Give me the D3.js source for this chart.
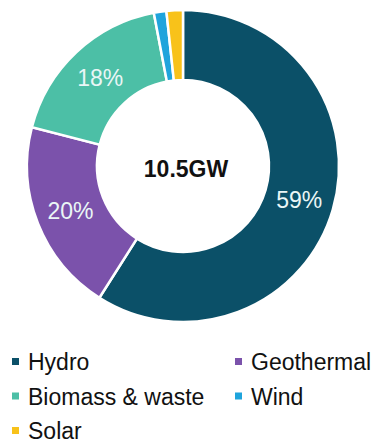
<!DOCTYPE html>
<html>
<head>
<meta charset="utf-8">
<script src="https://cdn.jsdelivr.net/npm/d3@7"></script>
<style>
  body { margin: 0; background: #fff; }
  svg { display: block; font-family: "Liberation Sans", Arial, sans-serif; }
</style>
</head>
<body>
<svg></svg>
<script>
// capacity mix, share of total (%)
var sources = ['Hydro', 'Geothermal', 'Biomass & waste', 'Wind', 'Solar'];
var shares = [59, 20, 18, 1.3, 1.7];
var shareLabels = ['59%', '20%', '18%', '', ''];
var colors = ['#0b5068', '#7b52ab', '#4cbfa6', '#1fa4dc', '#f8c21a'];
var total = '10.5GW';

var W = 375, H = 443;
var cx = 183, cy = 166, rOuter = 156, rInner = 86;

var svg = d3.select('svg').attr('width', W).attr('height', H);

var rows = sources.map(function(s, i) {
    return { name: s, value: shares[i], label: shareLabels[i], color: colors[i] };
});

var pie = d3.pie().sort(null).value(function(d) { return d.value; });
var arc = d3.arc().innerRadius(rInner).outerRadius(rOuter);
var labelArc = d3.arc().innerRadius((rInner + rOuter) / 2).outerRadius((rInner + rOuter) / 2);

var g = svg.append('g').attr('transform', 'translate(' + cx + ',' + cy + ')');

var slices = g.selectAll('g.slice')
    .data(pie(rows))
    .enter()
    .append('g')
    .attr('class', 'slice');

slices.append('path')
    .attr('d', arc)
    .style('fill', function(d) { return d.data.color; })
    .style('stroke', '#fff')
    .style('stroke-width', 2.5);

slices.append('text')
    .attr('transform', function(d) { return 'translate(' + labelArc.centroid(d) + ')'; })
    .attr('text-anchor', 'middle')
    .attr('dy', '0.36em')
    .style('font-size', '23px')
    .style('fill', '#eaf6f6')
    .text(function(d) { return d.data.label; });

g.append('text')
    .attr('x', 3)
    .attr('y', 3)
    .attr('text-anchor', 'middle')
    .attr('dy', '0.36em')
    .style('font-size', '23px')
    .style('font-weight', 'bold')
    .style('fill', '#111')
    .text(total);

// legend, two columns
var legend = svg.append('g');
var item = legend.selectAll('g.item')
    .data(rows)
    .enter()
    .append('g')
    .attr('class', 'item')
    .attr('transform', function(d, i) {
        var col = i % 2, row = Math.floor(i / 2);
        return 'translate(' + (col ? 235 : 12) + ',' + (362 + row * 34.5) + ')';
    });

item.append('rect')
    .attr('x', 0).attr('y', -4)
    .attr('width', 7).attr('height', 7)
    .style('fill', function(d) { return d.color; });

item.append('text')
    .attr('x', 16)
    .attr('dy', '0.35em')
    .style('font-size', '23px')
    .style('fill', '#111')
    .text(function(d) { return d.name; });
</script>
</body>
</html>
